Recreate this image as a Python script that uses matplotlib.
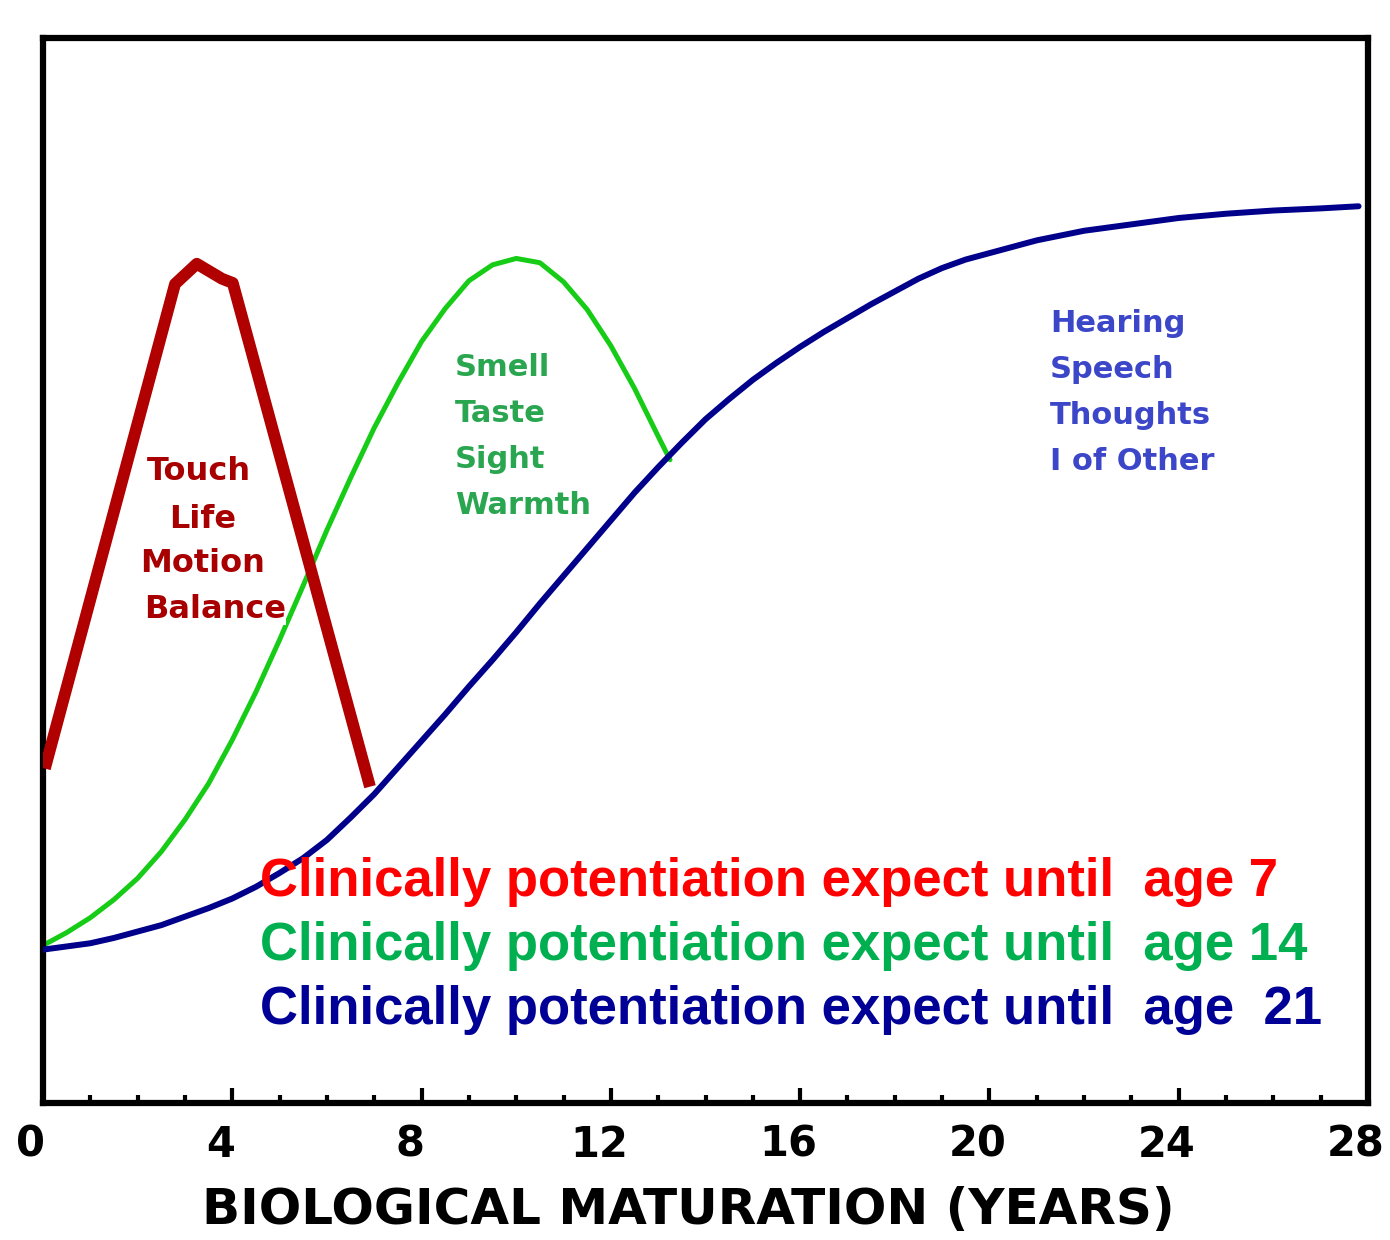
import matplotlib
matplotlib.use("Agg")
import matplotlib.pyplot as plt
import matplotlib.transforms as mtransforms
from matplotlib.ticker import MultipleLocator

# ==========================================
# DATA
# ==========================================
# age in years, level in arbitrary units (0 = x axis, 100 = top of the box)
red_age = [0.04, 2.79, 3.25, 3.78, 4.01, 6.91]
red_level = [31.4, 76.9, 78.8, 77.4, 77.0, 29.7]

green_age = [0, 0.5, 1, 1.5, 2, 2.5, 3, 3.5, 4, 4.5, 5, 5.5, 6, 6.5, 7,
             7.5, 8, 8.5, 9, 9.5, 10, 10.5, 11, 11.5, 12, 12.5, 13, 13.25]
green_level = [14.8, 16.0, 17.4, 19.1, 21.1, 23.6, 26.6, 30.0, 34.1, 38.6,
               43.5, 48.6, 53.8, 58.7, 63.4, 67.6, 71.5, 74.6, 77.2, 78.7,
               79.3, 78.9, 77.1, 74.5, 71.1, 67.1, 62.6, 60.4]

blue_age = [0, 0.5, 1, 1.5, 2, 2.5, 3, 3.5, 4, 4.5, 5, 5.5, 6, 6.5, 7, 7.5,
            8, 8.5, 9, 9.5, 10, 10.5, 11, 11.5, 12, 12.5, 13, 13.5, 14, 14.5,
            15, 15.5, 16, 16.5, 17, 17.5, 18, 18.5, 19, 19.5, 20, 21, 22, 23,
            24, 25, 26, 27, 27.8]
blue_level = [14.4, 14.7, 15.0, 15.5, 16.1, 16.7, 17.5, 18.3, 19.2, 20.3,
              21.6, 23.0, 24.7, 26.8, 29.0, 31.5, 34.0, 36.5, 39.1, 41.6,
              44.2, 46.9, 49.5, 52.1, 54.7, 57.3, 59.7, 62.0, 64.2, 66.1,
              67.9, 69.5, 71.0, 72.4, 73.7, 75.0, 76.2, 77.4, 78.4, 79.2,
              79.8, 81.0, 81.9, 82.5, 83.1, 83.5, 83.8, 84.0, 84.2]

red_senses = ["Touch", "Life", "Motion", "Balance"]
green_senses = ["Smell", "Taste", "Sight", "Warmth"]
blue_senses = ["Hearing", "Speech", "Thoughts", "I of Other"]

notes = ["Clinically potentiation expect until  age 7",
         "Clinically potentiation expect until  age 14",
         "Clinically potentiation expect until  age  21"]

x_ticks = [0, 4, 8, 12, 16, 20, 24, 28]
x_label = "BIOLOGICAL MATURATION (YEARS)"

# colours
c_red_line, c_green_line, c_blue_line = "#b00000", "#16cc16", "#00008b"
c_red_txt, c_green_txt, c_blue_txt = "#a80000", "#2aa650", "#3c46c8"
c_notes = ["#ff0000", "#00b050", "#000096"]

# ==========================================
# FIGURE
# ==========================================
W, H = 1390, 1240
fig = plt.figure(figsize=(W / 100, H / 100), dpi=100)
ax = fig.add_axes([43 / W, 1 - 1103 / H, (1368 - 43) / W, (1103 - 38) / H])
ax.set_xlim(0, 28)
ax.set_ylim(0, 100)


def px(x, y):
    # pixel position in the picture -> data coords
    return (x - 43) / 47.32, (1103 - y) / 10.65


ax.plot(green_age, green_level, color=c_green_line, lw=3.6, zorder=2,
        solid_capstyle="round", solid_joinstyle="round")
ax.plot(blue_age, blue_level, color=c_blue_line, lw=4.3, zorder=3,
        solid_capstyle="round", solid_joinstyle="round")
ax.plot(red_age, red_level, color=c_red_line, lw=8.5, zorder=5,
        solid_joinstyle="round", solid_capstyle="butt")

bold = dict(fontweight="bold", family="DejaVu Sans")

# red senses, roughly centred under the peak
red_pos = [(199, 471), (203, 520), (203, 563), (215, 609)]
for s, (x, y) in zip(red_senses, red_pos):
    ax.text(*px(x, y), s, color=c_red_txt, fontsize=23, ha="center",
            va="center", zorder=4, **bold,
            bbox=dict(facecolor="white", edgecolor="none", pad=0))

for i, s in enumerate(green_senses):
    ax.text(*px(455, 368 + 45.7 * i), s, color=c_green_txt, fontsize=22,
            ha="left", va="center", zorder=4, **bold)

for i, s in enumerate(blue_senses):
    ax.text(*px(1050, 324 + 45.7 * i), s, color=c_blue_txt, fontsize=22,
            ha="left", va="center", zorder=4, **bold)

for i, (s, c) in enumerate(zip(notes, c_notes)):
    ax.text(*px(260, 882 + 64 * i), s, color=c, fontsize=38, ha="left",
            va="center", fontweight="bold", zorder=6,
            family=["Liberation Sans", "DejaVu Sans"])

# axes styling
for side in ["top", "right", "bottom", "left"]:
    ax.spines[side].set_linewidth(4.5)
ax.set_yticks([])
ax.xaxis.set_major_locator(MultipleLocator(4))
ax.xaxis.set_minor_locator(MultipleLocator(1))
ax.tick_params(axis="x", which="major", direction="in", length=11, width=3,
               pad=15, labelsize=30)
ax.tick_params(axis="x", which="minor", direction="in", length=6, width=3)
ax.set_xticks(x_ticks)
ax.set_xticklabels([str(t) for t in x_ticks], fontweight="bold")
shift = mtransforms.ScaledTranslation(-12 / 100, 0, fig.dpi_scale_trans)
for lab in ax.get_xticklabels():
    lab.set_transform(lab.get_transform() + shift)

ax.set_xlabel(x_label, fontsize=36, fontweight="bold")
ax.xaxis.set_label_coords((688 - 43) / (1368 - 43), -(1210 - 1103) / (1103 - 38))
ax.xaxis.label.set_va("center")

fig.savefig("out.png", dpi=100)
